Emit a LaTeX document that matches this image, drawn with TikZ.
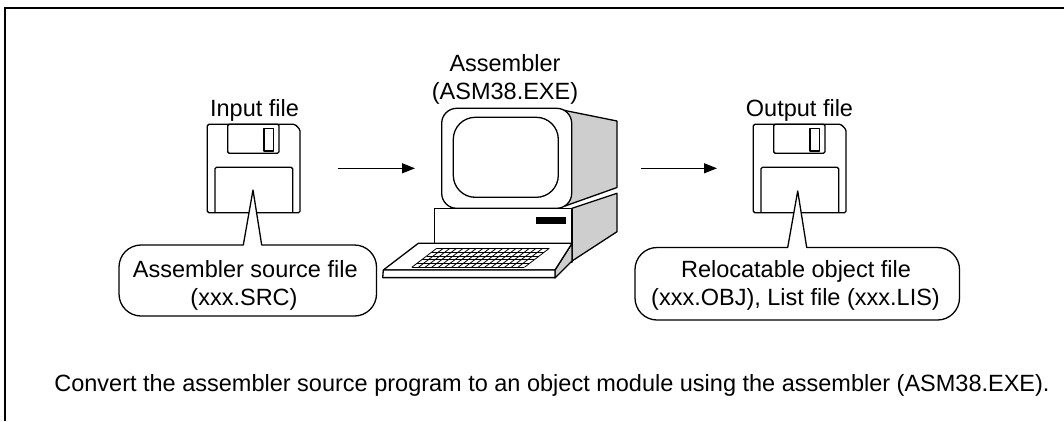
\documentclass[tikz,border=0pt]{standalone}
\usepackage{fontspec}
\setmainfont{Liberation Sans}
\usetikzlibrary{arrows.meta}
\definecolor{sidegray}{RGB}{206,206,206}
\begin{document}
\begin{tikzpicture}[x=1pt,y=-1pt,
  outline/.style={line width=1.3pt, line join=round},
  thin grid/.style={line width=0.8pt},
  lbl/.style={font=\fontsize{23.5}{28}\selectfont, inner sep=0pt, anchor=base},
  flow/.style={line width=1.3pt, -{Triangle[length=13pt,width=10pt]}},
  shade/.style={outline, fill=sidegray},
  callout/.style={outline, fill=white},
  pics/floppy/.style={code={
    % disk body with the clipped corner
    \draw[outline, fill=white, rounded corners=1.5pt]
      (0,0) -- (87.7,0) -- (92.7,5.2) -- (92.7,88.4) -- (0,88.4) -- cycle;
    % metal shutter and its window
    \draw[outline, rounded corners=1.5pt] (20.4,0) rectangle (71.7,29);
    \draw[outline] (56.7,4) rectangle (66,26.7);
    % label area
    \draw[outline, rounded corners=1.5pt] (7.7,88.4) -- (7.7,43) -- (85.4,43) -- (85.4,88.4);
  }}]

\useasboundingbox (0,0) rectangle (1064,421);

% frame
\draw[line width=2pt] (4.5,421) -- (4.5,7.5) -- (1064,7.5);

% ---------- input floppy ----------
\pic at (207.3,124.3) {floppy};
\node[lbl] (inlbl) at (254.5,116) {Input file};
\coordinate (in-tip) at (253,190);
\coordinate (in-east) at (338,168.3);

% ---------- output floppy ----------
\pic at (753.3,124.3) {floppy};
\node[lbl] (outlbl) at (799.5,116) {Output file};
\coordinate (out-tip) at (797.7,191);
\coordinate (out-west) at (717,168.3);

% ---------- computer ----------
% system unit
\draw[shade] (572,208.3) -- (617,193.3) -- (617,231.7) -- (572,261) -- cycle;
\draw[outline, fill=white] (434.3,208.3) rectangle (572,262);
\fill (536,217.3) rectangle (566,224);
% monitor
\draw[shade] (560,109.5) -- (617,121) -- (617,187.5) -- (565,206) -- cycle;
\draw[outline, fill=white, rounded corners=15pt] (441.7,108.3) rectangle (571.7,208.3);
\draw[outline, rounded corners=22pt] (453.3,117.3) rectangle (558.3,197.3);
% keyboard
\draw[shade] (572,243.3) -- (572,261) -- (555,278) -- (555,270) -- cycle;
\draw[outline, fill=white] (418.3,243.3) -- (572,243.3) -- (555,270) -- (383.3,270) -- cycle;
\draw[outline, fill=white] (383.3,270) -- (555,270) -- (555,277.6) -- (382.7,277.6) -- cycle;
\foreach \i in {0,...,5}
  \draw[thin grid] ({436.7-1.31*\i*3.8},{248.3+\i*3.8}) -- ({549.3-1.31*\i*3.8},{248.3+\i*3.8});
\foreach \j in {0,...,17}
  \draw[thin grid] ({436.7+\j*6.624},248.3) -- ({436.7+\j*6.624-24.9},267.3);
\node[lbl] (asmname) at (505,71) {Assembler};
\node[lbl] (asmfile) at (505,99.5) {(ASM38.EXE)};
\coordinate (asm-west) at (415,168.3);
\coordinate (asm-east) at (641,168.3);

% ---------- flow arrows ----------
\draw[flow] (in-east) -- (asm-west);
\draw[flow] (asm-east) -- (out-west);

% ---------- callouts ----------
\draw[callout] (243.3,245) -- (141,245)
  .. controls (128.9,245) and (119,254.9) .. (119,267) -- (119,294)
  .. controls (119,306.1) and (128.9,316) .. (141,316) -- (354.5,316)
  .. controls (366.6,316) and (376.5,306.1) .. (376.5,294) -- (376.5,267)
  .. controls (376.5,254.9) and (366.6,245) .. (354.5,245) -- (261.7,245)
  -- (in-tip) -- cycle;
\node[lbl] (srcline1) at (245.3,277.3) {Assembler source file};
\node[lbl] (srcline2) at (244,305) {(xxx.SRC)};

\draw[callout] (787.7,247.5) -- (657,247.5)
  .. controls (644.9,247.5) and (635,257.4) .. (635,269.5) -- (635,298)
  .. controls (635,310.1) and (644.9,320) .. (657,320) -- (937.5,320)
  .. controls (949.6,320) and (959.5,310.1) .. (959.5,298) -- (959.5,269.5)
  .. controls (959.5,257.4) and (949.6,247.5) .. (937.5,247.5) -- (806.7,247.5)
  -- (out-tip) -- cycle;
\node[lbl] (objline1) at (796,277.3) {Relocatable object file};
\node[lbl] (objline2) at (795.5,305) {(xxx.OBJ), List file (xxx.LIS)};

% ---------- caption ----------
\node[lbl] (caption) at (552,391) {Convert the assembler source program to an object module using the assembler (ASM38.EXE).};
\end{tikzpicture}
\end{document}
